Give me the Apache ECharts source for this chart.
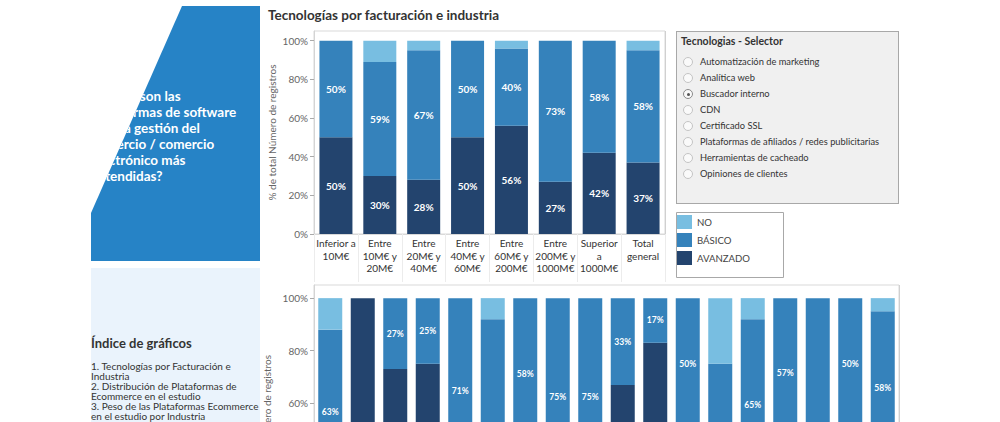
<!DOCTYPE html>
<html>
<head>
<meta charset="utf-8">
<script src="https://cdn.jsdelivr.net/npm/echarts@6/dist/echarts.min.js"></script>
<style>
  html, body { margin: 0; padding: 0; background: #fff; }
  #wrap { position: relative; width: 1000px; height: 422px; overflow: hidden; font-family: Lato, "Open Sans", sans-serif; }
  #chart { position: absolute; left: 0; top: 0; width: 1000px; height: 422px; }
  #blue { position: absolute; left: 91px; top: 6px; width: 169px; height: 255px; background: #2683c6;
          clip-path: polygon(91px 0, 169px 0, 169px 255px, 0 255px, 0 207px); }
  #blue .q { position: absolute; left: 0; top: 82px; color: #fff; font-weight: bold; font-size: 13.5px; line-height: 16px; white-space: nowrap; }
  #idx { position: absolute; left: 91px; top: 268px; width: 169px; height: 160px; background: #eaf3fc; color: #333; }
  #idx .t { position: absolute; left: 0; top: 67px; font-size: 13px; font-weight: bold; line-height: 16px; white-space: nowrap; }
  #idx .l { position: absolute; left: 0; top: 93px; font-size: 10px; line-height: 10px; width: 169px; }
  #sel { position: absolute; left: 676px; top: 31px; width: 221px; height: 171px; background: #f0f0f0; border: 1px solid #a8a8a8; color: #333; }
  #sel .t { position: absolute; left: 4px; top: 2px; font-size: 10.5px; font-weight: bold; line-height: 14px; }
  #sel .r { position: absolute; left: 6px; font-size: 9.3px; line-height: 12px; white-space: nowrap; }
  #sel .r i { position: absolute; left: 0; top: 0; width: 10px; height: 10px; border-radius: 50%; border: 1px solid #c4c4c4; background: #fafafa; box-sizing: border-box; }
  #sel .r.on i { border-color: #8a8a8a; }
  #sel .r.on i::after { content: ""; position: absolute; left: 2.5px; top: 2.5px; width: 3px; height: 3px; border-radius: 50%; background: #555; }
  #sel .r span { position: absolute; left: 17px; top: -1px; }
</style>
</head>
<body>
<div id="wrap">
  <div id="chart"></div>
  <div id="blue"><div class="q">¿Cuáles son las<br>plataformas de software<br>para la gestión del<br>comercio / comercio<br>electrónico más<br>extendidas?</div></div>
  <div id="idx">
    <div class="t">Índice de gráficos</div>
    <div class="l">1. Tecnologías por Facturación e Industria<br>2. Distribución de Plataformas de Ecommerce en el estudio<br>3. Peso de las Plataformas Ecommerce en el estudio por Industria</div>
  </div>
  <div id="sel"><div class="t">Tecnologias - Selector</div></div>
</div>
<script>
// ---- data ----
const chartTitle = 'Tecnologías por facturación e industria';
const yAxisName = '% de total Número de registros';
const seriesNames = ['AVANZADO', 'BÁSICO', 'NO'];
const legendOrder = ['NO', 'BÁSICO', 'AVANZADO'];
const yTicks = [0, 20, 40, 60, 80, 100];

const topCats = ['Inferior a\n10M€', 'Entre\n10M€ y\n20M€', 'Entre\n20M€ y\n40M€', 'Entre\n40M€ y\n60M€',
                 'Entre\n60M€ y\n200M€', 'Entre\n200M€ y\n1000M€', 'Superior\na\n1000M€', 'Total\ngeneral'];
const topAvanzado = [50, 30, 28, 50, 56, 27, 42, 37];
const topBasico   = [50, 59, 67, 50, 40, 73, 58, 58];
const topNo       = [0, 11, 5, 0, 4, 0, 0, 5];

const bottomCats = ['Industria 1', 'Industria 2', 'Industria 3', 'Industria 4', 'Industria 5', 'Industria 6',
                    'Industria 7', 'Industria 8', 'Industria 9', 'Industria 10', 'Industria 11', 'Industria 12',
                    'Industria 13', 'Industria 14', 'Industria 15', 'Industria 16', 'Industria 17', 'Total general'];
const bottomAvanzado = [25, 100, 73, 75, 29, 0, 42, 25, 25, 67, 83, 50, 0, 27, 43, 0, 50, 37];
const bottomBasico   = [63, 0, 27, 25, 71, 92, 58, 75, 75, 33, 17, 50, 75, 65, 57, 100, 50, 58];
const bottomNo       = [12, 0, 0, 0, 0, 8, 0, 0, 0, 0, 0, 0, 25, 8, 0, 0, 0, 5];

const selectorItems = ['Automatización de marketing', 'Analítica web', 'Buscador interno', 'CDN', 'Certificado SSL',
                       'Plataformas de afiliados / redes publicitarias', 'Herramientas de cacheado', 'Opiniones de clientes'];
const selectedItem = 'Buscador interno';

// ---- selector (HTML) ----
const sel = document.getElementById('sel');
selectorItems.forEach((name, i) => {
  const d = document.createElement('div');
  d.className = 'r' + (name === selectedItem ? ' on' : '');
  d.style.top = (25 + i * 16) + 'px';
  d.innerHTML = '<i></i><span></span>';
  d.querySelector('span').textContent = name;
  sel.appendChild(d);
});

// ---- chart ----
const colors = { 'AVANZADO': '#23446e', 'BÁSICO': '#3582bb', 'NO': '#78bee1' };
const FONT = 'Lato, "Open Sans", sans-serif';

function yAxis(gridIndex) {
  return {
    type: 'value', gridIndex, min: 0, max: 105, interval: 20,
    name: yAxisName, nameLocation: 'middle', nameGap: 37,
    nameTextStyle: { color: '#666', fontSize: 10, fontFamily: FONT },
    axisLine: { show: true, lineStyle: { color: '#d4d4d4' } },
    axisTick: { show: true, length: 4, lineStyle: { color: '#aaa' }, customValues: yTicks },
    axisLabel: { color: '#666', fontSize: 10, fontFamily: FONT, margin: 6, customValues: yTicks,
                 formatter: v => (v > 100 ? '' : v + '%') },
    splitLine: { show: false }
  };
}

function barSeries(name, data, xi, yi, fontSize, barWidth) {
  return {
    name, type: 'bar', stack: 's' + xi, xAxisIndex: xi, yAxisIndex: yi, data, barWidth,
    itemStyle: { color: colors[name] },
    label: {
      show: name !== 'NO', position: 'inside', color: '#fff', fontWeight: 'bold', fontSize, fontFamily: FONT,
      formatter: p => (p.value > 0 ? p.value + '%' : '')
    },
    emphasis: { disabled: true }
  };
}

const chart = echarts.init(document.getElementById('chart'), null, { renderer: 'svg' });
chart.setOption({
  animation: false,
  textStyle: { fontFamily: FONT },
  title: { text: chartTitle, left: 263, top: 3, textStyle: { fontSize: 13.5, fontWeight: 'bold', color: '#333', fontFamily: FONT } },
  legend: {
    data: legendOrder, orient: 'vertical', left: 672, top: 210, itemWidth: 15, itemHeight: 14, itemGap: 4,
    icon: 'rect', selectedMode: false, textStyle: { color: '#444', fontSize: 9.6, fontFamily: FONT }
  },
  graphic: [
    { type: 'rect', shape: { x: 676.5, y: 212.5, width: 107, height: 65 }, style: { fill: 'none', stroke: '#a8a8a8', lineWidth: 1 }, z: -1 }
  ],
  grid: [
    { left: 314, top: 31, width: 351, height: 203, show: true, borderColor: '#d9d9d9', borderWidth: 1, outerBoundsMode: 'none', containLabel: false },
    { left: 314, top: 285, width: 585, height: 276, show: true, borderColor: '#d9d9d9', borderWidth: 1, outerBoundsMode: 'none', containLabel: false }
  ],
  xAxis: [
    { type: 'category', gridIndex: 0, data: topCats,
      axisLine: { lineStyle: { color: '#d9d9d9' } },
      axisTick: { show: true, length: 48, lineStyle: { color: '#ececec' } },
      axisLabel: { color: '#333', fontSize: 10, lineHeight: 12.5, margin: 3, interval: 0, fontFamily: FONT },
      splitLine: { show: true, interval: (i) => i === 7, lineStyle: { color: '#d0d0d0' } } },
    { type: 'category', gridIndex: 1, data: bottomCats,
      axisLine: { lineStyle: { color: '#d9d9d9' } },
      axisTick: { show: false }, axisLabel: { show: false },
      splitLine: { show: true, interval: (i) => i === 17, lineStyle: { color: '#d0d0d0' } } }
  ],
  yAxis: [yAxis(0), yAxis(1)],
  series: [
    barSeries('AVANZADO', topAvanzado, 0, 0, 10, 33),
    barSeries('BÁSICO', topBasico, 0, 0, 10, 33),
    barSeries('NO', topNo, 0, 0, 10, 33),
    barSeries('AVANZADO', bottomAvanzado, 1, 1, 8.5, 24),
    barSeries('BÁSICO', bottomBasico, 1, 1, 8.5, 24),
    barSeries('NO', bottomNo, 1, 1, 8.5, 24)
  ]
});
</script>
</body>
</html>
